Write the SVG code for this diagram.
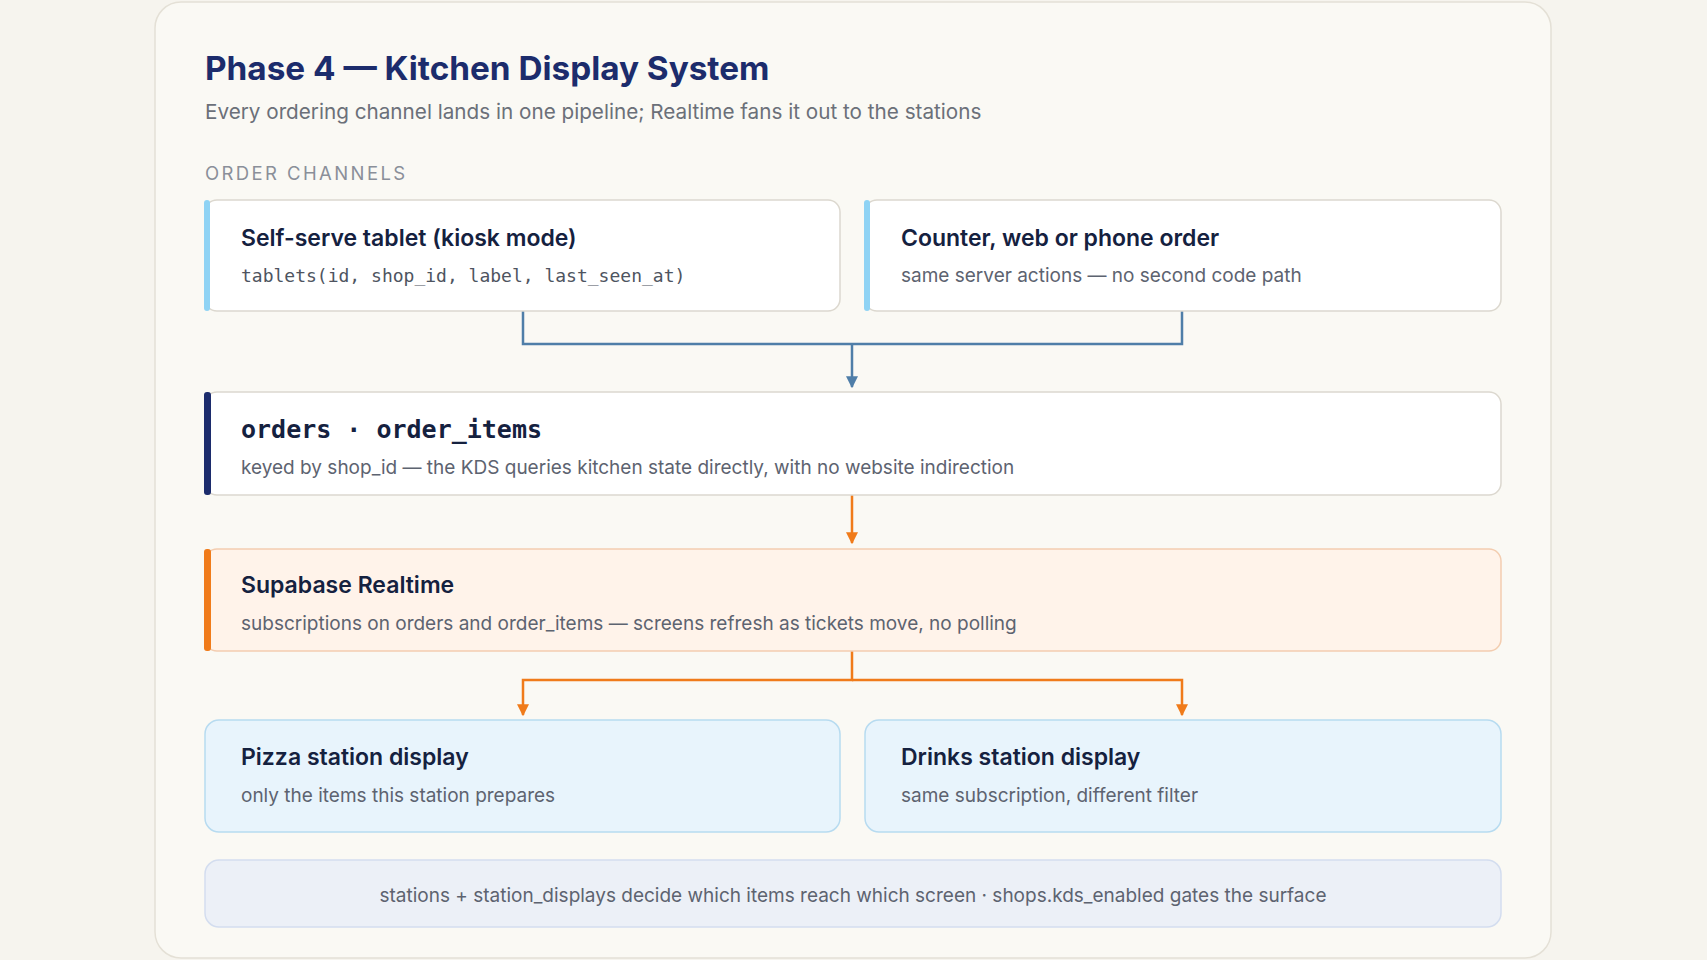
<svg xmlns="http://www.w3.org/2000/svg" width="1707" height="960" viewBox="0 0 1707 960">
<defs>
<style>
.s{font-family:Inter,"Liberation Sans",sans-serif}
.m{font-family:"DejaVu Sans Mono","Liberation Mono",monospace}
.t{font-size:23px;font-weight:600;fill:#15213f}
.d{font-size:19px;fill:#5d6370}
.box{fill:#fff;stroke:#dcd8cf;stroke-width:1.5}
.st{fill:#e8f4fc;stroke:#b7dbf0;stroke-width:1.5}
</style>
<marker id="ab" viewBox="0 0 10 10" refX="9" refY="5" markerWidth="12" markerHeight="14" markerUnits="userSpaceOnUse" orient="auto"><path d="M0,0L10,5L0,10z" fill="#4f7ea8"/></marker>
<marker id="ao" viewBox="0 0 10 10" refX="9" refY="5" markerWidth="12" markerHeight="14" markerUnits="userSpaceOnUse" orient="auto"><path d="M0,0L10,5L0,10z" fill="#f07b1a"/></marker>
</defs>
<rect width="1707" height="960" fill="#f6f4ee"/>
<rect x="155" y="2" width="1396" height="956" rx="26" fill="#faf9f4" stroke="#e4e0d6" stroke-width="1.5"/>
<text class="s" x="205" y="80" font-size="33.3" font-weight="700" fill="#1c2c6c">Phase 4 — Kitchen Display System</text>
<text class="s" x="205" y="119" font-size="20.7" fill="#6b7079">Every ordering channel lands in one pipeline; Realtime fans it out to the stations</text>
<text class="s" x="205" y="180" font-size="18.5" fill="#8a8f99" letter-spacing="2.4">ORDER CHANNELS</text>
<g id="connectors" fill="none" stroke-width="2.5">
<path d="M523,311V344H1182V311" stroke="#4f7ea8"/>
<path d="M852,344V387" stroke="#4f7ea8" marker-end="url(#ab)"/>
<path d="M852,495V543" stroke="#f07b1a" marker-end="url(#ao)"/>
<path d="M852,651V680H523V715" stroke="#f07b1a" marker-end="url(#ao)"/>
<path d="M852,680H1182V715" stroke="#f07b1a" marker-end="url(#ao)"/>
</g>
<g id="tablet">
<rect class="box" x="205" y="200" width="635" height="111" rx="12"/>
<rect x="204" y="200" width="6" height="111" rx="3" fill="#8fd3f4"/>
<text class="s t" x="241" y="246">Self-serve tablet (kiosk mode)</text>
<text class="m" x="241" y="282" font-size="18" fill="#4e5460">tablets(id, shop_id, label, last_seen_at)</text>
</g>
<g id="counter">
<rect class="box" x="865" y="200" width="636" height="111" rx="12"/>
<rect x="864" y="200" width="6" height="111" rx="3" fill="#8fd3f4"/>
<text class="s t" x="901" y="246">Counter, web or phone order</text>
<text class="s d" x="901" y="282">same server actions — no second code path</text>
</g>
<g id="orders">
<rect class="box" x="205" y="392" width="1296" height="103" rx="12"/>
<rect x="204" y="392" width="7" height="103" rx="3" fill="#1c2c6c"/>
<text class="m" x="241" y="438" font-size="25" font-weight="700" fill="#15213f">orders · order_items</text>
<text class="s d" x="241" y="474">keyed by shop_id — the KDS queries kitchen state directly, with no website indirection</text>
</g>
<g id="realtime">
<rect x="205" y="549" width="1296" height="102" rx="12" fill="#fff3ea" stroke="#f3cdb0" stroke-width="1.5"/>
<rect x="204" y="549" width="7" height="102" rx="3" fill="#f07b1a"/>
<text class="s t" x="241" y="593">Supabase Realtime</text>
<text class="s d" x="241" y="630">subscriptions on orders and order_items — screens refresh as tickets move, no polling</text>
</g>
<g id="pizza">
<rect class="st" x="205" y="720" width="635" height="112" rx="14"/>
<text class="s t" x="241" y="765">Pizza station display</text>
<text class="s d" x="241" y="802">only the items this station prepares</text>
</g>
<g id="drinks">
<rect class="st" x="865" y="720" width="636" height="112" rx="14"/>
<text class="s t" x="901" y="765">Drinks station display</text>
<text class="s d" x="901" y="802">same subscription, different filter</text>
</g>
<g id="footer">
<rect x="205" y="860" width="1296" height="67" rx="14" fill="#ecf0f7" stroke="#d3ddef" stroke-width="1.5"/>
<text class="s d" x="853" y="902" text-anchor="middle" fill="#4e5460">stations + station_displays decide which items reach which screen · shops.kds_enabled gates the surface</text>
</g>
</svg>
